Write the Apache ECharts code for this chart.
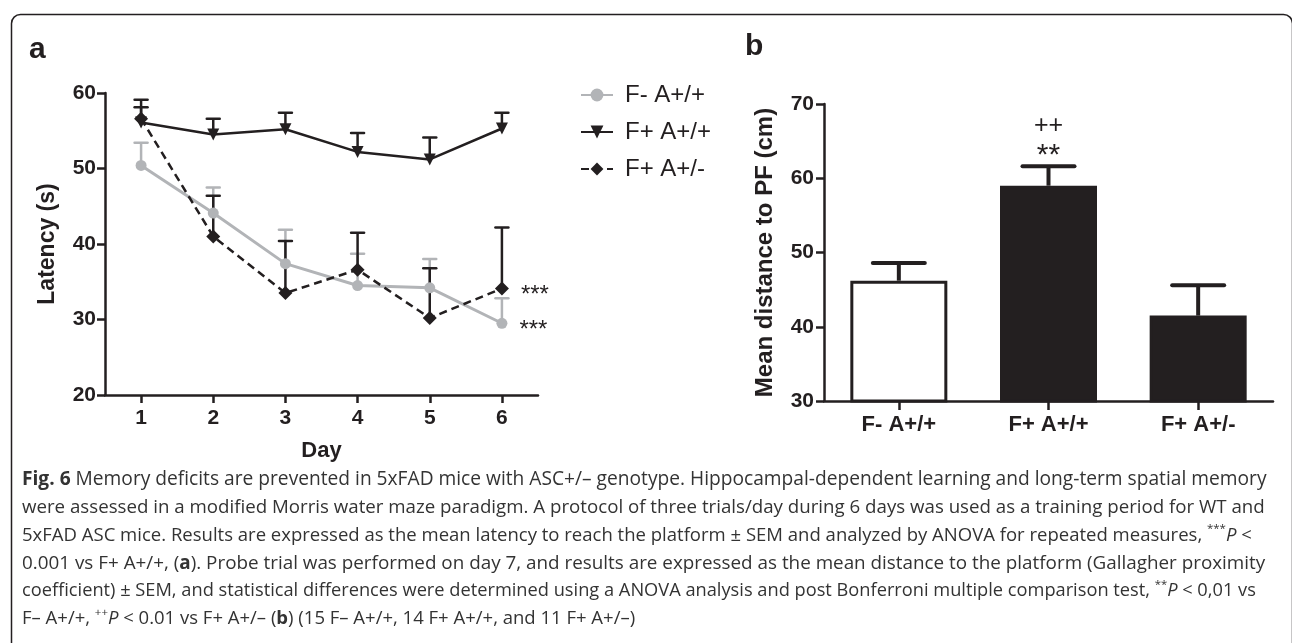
<!DOCTYPE html>
<html>
<head>
<meta charset="utf-8">
<script src="https://cdn.jsdelivr.net/npm/echarts@6/dist/echarts.min.js"></script>
<style>
html, body { margin: 0; padding: 0; background: #fff; }
#chart { width: 1292px; height: 643px; }
</style>
</head>
<body>
<div id="chart"></div>
<script>
// panel a: latency per training day
var days = ['1', '2', '3', '4', '5', '6']
var groupNames = ['F- A+/+', 'F+ A+/+', 'F+ A+/-']
var latFneg = [50.4, 44.1, 37.4, 34.5, 34.2, 29.5]
var latFnegSem = [3.0, 3.4, 4.5, 4.2, 3.8, 3.3]
var latFpos = [56.1, 54.5, 55.2, 52.2, 51.2, 55.3]
var latFposSem = [3.0, 2.1, 2.2, 2.5, 2.9, 2.1]
var latHet = [56.6, 41.0, 33.5, 36.6, 30.2, 34.1]
var latHetSem = [1.5, 5.4, 6.9, 4.9, 6.6, 8.1]
var starsFneg = ['', '', '', '', '', '***']
var starsHet = ['', '', '', '', '', '***']

// panel b: probe trial
var probeGroups = ['F- A+/+', 'F+ A+/+', 'F+ A+/-']
var distMean = [46.2, 59.0, 41.5]
var distSem = [2.4, 2.6, 4.1]
var distStars = ['', '**', '']
var distPlus = ['', '++', '']

var captionLines = [
    '{b|Fig. 6} Memory deficits are prevented in 5xFAD mice with ASC+/– genotype. Hippocampal-dependent learning and long-term spatial memory',
    'were assessed in a modified Morris water maze paradigm. A protocol of three trials/day during 6 days was used as a training period for WT and',
    '5xFAD ASC mice. Results are expressed as the mean latency to reach the platform ± SEM and analyzed by ANOVA for repeated measures, {sup|***}{i|P} <',
    '0.001 vs F+ A+/+, ({b|a}). Probe trial was performed on day 7, and results are expressed as the mean distance to the platform (Gallagher proximity',
    'coefficient) ± SEM, and statistical differences were determined using a ANOVA analysis and post Bonferroni multiple comparison test, {sup|**}{i|P} < 0,01 vs',
    'F– A+/+, {sup|++}{i|P} < 0.01 vs F+ A+/– ({b|b}) (15 F– A+/+, 14 F+ A+/+, and 11 F+ A+/–)'
]

var ink = '#231f20'
var grey = '#b2b4b7'
var font = '"Liberation Sans", Arial, Helvetica, sans-serif'
var capFont = '"Open Sans", "Noto Sans", sans-serif'
var capSize = 18.5
var capWidth = 1243

function errData(mean, sem) {
    return mean.map(function (v, i) { return [i, v, +(v + sem[i]).toFixed(2)] })
}

function errorBars(capW, lineWidth, color, marks) {
    return function (params, api) {
        var i = api.value(0)
        var p0 = api.coord([i, api.value(1)])
        var p1 = api.coord([i, api.value(2)])
        var half = capW / 2
        var kids = [
            { type: 'line', shape: { x1: p0[0], y1: p0[1], x2: p1[0], y2: p1[1] }, style: { stroke: color, lineWidth: lineWidth } },
            { type: 'line', shape: { x1: p1[0] - half, y1: p1[1], x2: p1[0] + half, y2: p1[1] }, style: { stroke: color, lineWidth: lineWidth, lineCap: 'round' } }
        ]
        if (marks) {
            kids.push({ type: 'text', x: p1[0], y: p1[1] - 11, style: { text: marks[0][i], fontSize: 30, fontFamily: font, fill: ink, align: 'center', verticalAlign: 'middle' } })
            kids.push({ type: 'text', x: p1[0], y: p1[1] - 40, style: { text: marks[1][i], fontSize: 25, fontFamily: font, fill: ink, align: 'center', verticalAlign: 'middle' } })
        }
        return { type: 'group', children: kids }
    }
}

function starLabel(stars) {
    return {
        show: true,
        position: 'right',
        distance: 12,
        offset: [0, 7],
        fontSize: 24,
        fontFamily: font,
        color: ink,
        formatter: function (p) { return stars[p.dataIndex] }
    }
}

// caption lines are justified in the figure: scale each one to the text block width
var measureCtx = document.createElement('canvas').getContext('2d')
function lineSize(line, i) {
    if (i === captionLines.length - 1) return capSize
    measureCtx.font = '100px ' + capFont
    var w = measureCtx.measureText(line.replace(/\{\w+\|([^}]*)\}/g, '$1')).width
    return Math.min(100 * capWidth / w, capSize * 1.12)
}

var chart = echarts.init(document.getElementById('chart'))

var axisText = { fontFamily: font, fontWeight: 'bold', color: ink }

var option = {
    backgroundColor: '#fff',
    animation: false,
    grid: [
        { left: 105, top: 93, width: 433, height: 302, outerBoundsMode: 'none' },
        { left: 824, top: 104, width: 449, height: 297, outerBoundsMode: 'none' }
    ],
    legend: {
        orient: 'vertical',
        left: 575,
        top: 78,
        itemWidth: 32,
        itemHeight: 16,
        itemGap: 13,
        selectedMode: false,
        data: groupNames,
        textStyle: { fontFamily: font, fontSize: 24, color: ink, lineHeight: 24, padding: [0, 0, 0, 7] }
    },
    xAxis: [
        {
            gridIndex: 0,
            type: 'category',
            data: days,
            boundaryGap: true,
            name: 'Day',
            nameLocation: 'middle',
            nameGap: 45,
            nameTextStyle: Object.assign({ fontSize: 22 }, axisText),
            axisLine: { show: true, lineStyle: { color: ink, width: 2.5 } },
            axisTick: { show: true, alignWithLabel: true, length: 8, lineStyle: { color: ink, width: 2.5 } },
            axisLabel: Object.assign({ fontSize: 21, margin: 13 }, axisText),
            splitLine: { show: false }
        },
        {
            gridIndex: 1,
            type: 'category',
            data: probeGroups,
            boundaryGap: true,
            axisLine: { show: true, lineStyle: { color: ink, width: 2.5 } },
            axisTick: { show: true, alignWithLabel: true, length: 9, lineStyle: { color: ink, width: 2.5 } },
            axisLabel: Object.assign({ fontSize: 22, margin: 13 }, axisText),
            splitLine: { show: false }
        }
    ],
    yAxis: [
        {
            gridIndex: 0,
            type: 'value',
            min: 20,
            max: 60,
            interval: 10,
            name: 'Latency (s)',
            nameLocation: 'middle',
            nameRotate: 90,
            nameGap: 46,
            nameTextStyle: Object.assign({ fontSize: 23 }, axisText),
            axisLine: { show: true, lineStyle: { color: ink, width: 2.5 } },
            axisTick: { show: true, length: 8, lineStyle: { color: ink, width: 2.5 } },
            axisLabel: Object.assign({ fontSize: 21, margin: 9 }, axisText),
            splitLine: { show: false }
        },
        {
            gridIndex: 1,
            type: 'value',
            min: 30,
            max: 70,
            interval: 10,
            name: 'Mean distance to PF (cm)',
            nameLocation: 'middle',
            nameRotate: 90,
            nameGap: 47,
            nameTextStyle: Object.assign({ fontSize: 24 }, axisText),
            axisLine: { show: true, lineStyle: { color: ink, width: 2.5 } },
            axisTick: { show: true, length: 8, lineStyle: { color: ink, width: 2.5 } },
            axisLabel: Object.assign({ fontSize: 21, margin: 10 }, axisText),
            splitLine: { show: false }
        }
    ],
    series: [
        {
            type: 'custom', xAxisIndex: 0, yAxisIndex: 0, z: 1,
            renderItem: errorBars(13, 2.5, grey),
            encode: { x: 0, y: [1, 2] },
            data: errData(latFneg, latFnegSem)
        },
        {
            type: 'custom', xAxisIndex: 0, yAxisIndex: 0, z: 1,
            renderItem: errorBars(13, 2.5, ink),
            encode: { x: 0, y: [1, 2] },
            data: errData(latFpos, latFposSem)
        },
        {
            type: 'custom', xAxisIndex: 0, yAxisIndex: 0, z: 1,
            renderItem: errorBars(13, 2.5, ink),
            encode: { x: 0, y: [1, 2] },
            data: errData(latHet, latHetSem)
        },
        {
            name: groupNames[0], type: 'line', xAxisIndex: 0, yAxisIndex: 0, z: 2,
            data: latFneg,
            symbol: 'circle', symbolSize: 11,
            itemStyle: { color: grey },
            lineStyle: { color: grey, width: 3 },
            label: starLabel(starsFneg)
        },
        {
            name: groupNames[1], type: 'line', xAxisIndex: 0, yAxisIndex: 0, z: 3,
            data: latFpos,
            symbol: 'triangle', symbolSize: 12, symbolRotate: 180,
            itemStyle: { color: ink },
            lineStyle: { color: ink, width: 2.5 }
        },
        {
            name: groupNames[2], type: 'line', xAxisIndex: 0, yAxisIndex: 0, z: 3,
            data: latHet,
            symbol: 'diamond', symbolSize: 14,
            itemStyle: { color: ink },
            lineStyle: { color: ink, width: 2.5, type: [8, 5] },
            label: starLabel(starsHet)
        },
        {
            type: 'bar', xAxisIndex: 1, yAxisIndex: 1, z: 2,
            barWidth: 97,
            data: distMean.map(function (v, i) {
                return { value: v, itemStyle: { color: i === 0 ? '#fff' : ink } }
            }),
            itemStyle: { borderColor: ink, borderWidth: 3 }
        },
        {
            type: 'custom', xAxisIndex: 1, yAxisIndex: 1, z: 3,
            renderItem: errorBars(52, 4, ink, [distStars, distPlus]),
            encode: { x: 0, y: [1, 2] },
            data: errData(distMean, distSem)
        }
    ],
    graphic: [
        {
            type: 'rect', left: 9, top: 12, z: 0, silent: true,
            shape: { x: 0, y: 0, width: 1281, height: 900, r: 9 },
            style: { fill: 'none', stroke: ink, lineWidth: 1.5 }
        },
        { type: 'text', left: 29, top: 35, style: { text: 'a', fontSize: 30, fontWeight: 'bold', fontFamily: font, fill: ink } },
        { type: 'text', left: 745, top: 32, style: { text: 'b', fontSize: 30, fontWeight: 'bold', fontFamily: font, fill: ink } }
    ].concat(captionLines.map(function (line, i) {
        var fs = lineSize(line, i)
        return {
            type: 'text',
            left: 22,
            top: 468 + i * 27.8,
            style: {
                text: line,
                fontSize: fs,
                fontFamily: capFont,
                fill: '#333',
                lineHeight: 24,
                rich: {
                    b: { fontSize: fs, fontWeight: 'bold', fontFamily: capFont, fill: '#333', lineHeight: 24 },
                    i: { fontSize: fs, fontStyle: 'italic', fontFamily: capFont, fill: '#333', lineHeight: 24 },
                    sup: { fontSize: fs * 0.62, verticalAlign: 'top', fontFamily: capFont, fill: '#333', lineHeight: 24 }
                }
            }
        }
    }))
}

chart.setOption(option)
</script>
</body>
</html>
